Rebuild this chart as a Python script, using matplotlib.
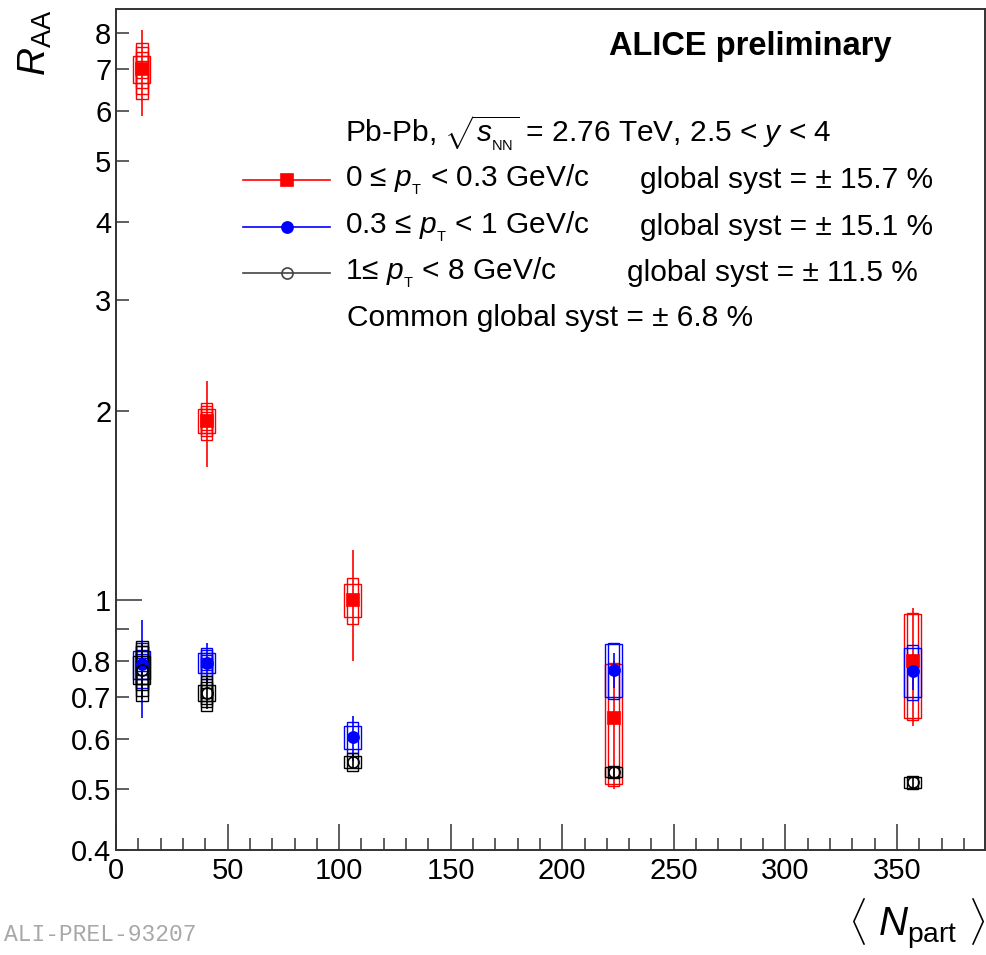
import numpy as np
import matplotlib.pyplot as plt
from matplotlib.patches import Rectangle

plt.rcParams['font.family'] = ['Liberation Sans', 'DejaVu Sans']
plt.rcParams['mathtext.fontset'] = 'custom'
plt.rcParams['mathtext.rm'] = 'Liberation Sans'
plt.rcParams['mathtext.it'] = 'Liberation Sans:italic'
plt.rcParams['mathtext.bf'] = 'Liberation Sans:bold'

# <Npart> for the five centrality classes
npart = [11.5, 40.6, 106, 223, 357]

# 0 <= pT < 0.3 GeV/c
raa_low = [7.0, 1.93, 1.0, 0.65, 0.80]
stat_low = [1.1, 0.30, 0.20, 0.15, 0.17]
syst_low = [0.72, 0.13, 0.085, 0.145, 0.155]
syst2_low = [0.35, 0.085, 0.06, 0.14, 0.15]

# 0.3 <= pT < 1 GeV/c
raa_mid = [0.79, 0.795, 0.605, 0.775, 0.77]
stat_mid = [0.14, 0.06, 0.05, 0.05, 0.05]
syst_mid = [0.065, 0.045, 0.035, 0.08, 0.077]
syst2_mid = [0.04, 0.03, 0.025, 0.075, 0.07]

# 1 <= pT < 8 GeV/c
raa_high = [0.775, 0.712, 0.553, 0.532, 0.513]
stat_high = [0.08, 0.04, 0.015, 0.01, 0.01]
syst_high = [0.085, 0.045, 0.018, 0.012, 0.012]
syst2_high = [0.04, 0.02, 0.012, 0.01, 0.01]

leg_labels = [r'0 ≤ $p_{_{\mathrm{T}}}$ < 0.3 GeV/c',
              r'0.3 ≤ $p_{_{\mathrm{T}}}$ < 1 GeV/c',
              r'1≤ $p_{_{\mathrm{T}}}$ < 8 GeV/c']
glob_labels = ['global syst = ± 15.7 %',
               'global syst = ± 15.1 %',
               'global syst = ± 11.5 %']

fig = plt.figure(figsize=(9.86, 9.55), dpi=100)
ax = fig.add_axes([0.1177, 0.1099, 0.8813, 0.8806])
ax.set_yscale('log')

series = [
    (raa_low, stat_low, syst_low, syst2_low, 'red', 's', 'red'),
    (raa_mid, stat_mid, syst_mid, syst2_mid, 'blue', 'o', 'blue'),
    (raa_high, stat_high, syst_high, syst2_high, 'black', 'o', 'none'),
]

for k, (y, st, sy, sy2, col, mk, fc) in enumerate(series):
    for i in range(len(npart)):
        # narrow boxes (ladder look in the peripheral bins)
        nlay = 5 if i < 2 else 1
        for f in np.linspace(1.0, 0.3, nlay):
            ax.add_patch(Rectangle((npart[i] - 2.6, y[i] - sy[i] * f), 5.2, 2 * sy[i] * f,
                                   fill=False, ec=col, lw=1.0, zorder=2 + k))
        # wide box
        ax.add_patch(Rectangle((npart[i] - 3.8, y[i] - sy2[i]), 7.6, 2 * sy2[i],
                               fill=False, ec=col, lw=1.0, zorder=2 + k))
    ax.errorbar(npart, y, yerr=st, fmt='none', ecolor=col, elinewidth=1.2,
                capsize=0, zorder=3 + k)
    ax.plot(npart, y, ls='none', marker=mk, ms=8, mfc=fc, mec=col, mew=1.2, zorder=6 + k)

ax.set_xlim(0, 389.5)
ax.set_ylim(0.4, 8.73)

ax.set_xticks(np.arange(0, 351, 50))
ax.set_xticks(np.arange(0, 390, 10), minor=True)
ax.set_yticks([1])
ax.set_yticklabels(['1'])
yminor = [0.4, 0.5, 0.6, 0.7, 0.8, 0.9, 2, 3, 4, 5, 6, 7, 8]
ax.set_yticks(yminor, minor=True)
ax.set_yticklabels(['0.4', '0.5', '0.6', '0.7', '0.8', '', '2', '3', '4', '5', '6', '7', '8'],
                   minor=True)

ax.tick_params(which='both', direction='in', top=False, right=False, width=1.1,
               labelsize=21, color='#333333')
ax.tick_params(which='major', length=19)
ax.tick_params(which='minor', length=9)
ax.tick_params(axis='x', pad=5)
ax.tick_params(axis='y', pad=4)
for s in ax.spines.values():
    s.set_linewidth(1.4)
    s.set_color('#333333')

# labels
fig.text(35 / 986, 1 - 10 / 955, r'$R_{\mathrm{AA}}$', rotation=90, ha='center', va='top',
         fontsize=28)
fig.text(0.999, 0.004, r'$\langle\ N_{\mathrm{part}}\ \rangle$', ha='right', va='bottom',
         fontsize=29)
fig.text(0.004, 0.021, 'ALI-PREL-93207', family='Liberation Mono', fontsize=16.5,
         color='#a8a8a8', ha='left', va='center')

ax.text(0.7296, 0.955, 'ALICE preliminary', transform=ax.transAxes, ha='center',
        va='center', fontsize=23.5, fontweight='bold')

ax.text(0.2635, 0.8526, r'Pb-Pb, $\sqrt{s_{_{\mathrm{NN}}}}$ = 2.76 TeV, 2.5 < $y$ < 4',
        transform=ax.transAxes, ha='left', va='center', fontsize=21.5)
rows = [0.7967, 0.7408, 0.6861]
gx = [0.603, 0.603, 0.588]
styles = [('red', 's', 'red'), ('blue', 'o', 'blue'), ('#444444', 'o', 'none')]
for r, lab, glab, g, (col, mk, fc) in zip(rows, leg_labels, glob_labels, gx, styles):
    ax.plot([0.146, 0.246], [r, r], color=col, lw=1.2, transform=ax.transAxes, clip_on=False)
    ax.plot([0.197], [r], marker=mk, ms=8, mfc=fc, mec=col, mew=1.2, transform=ax.transAxes,
            clip_on=False)
    ax.text(0.2635, r, lab, transform=ax.transAxes, ha='left', va='center', fontsize=21.5)
    ax.text(g, r, glab, transform=ax.transAxes, ha='left', va='center', fontsize=21.5)
ax.text(0.2655, 0.6326, 'Common global syst = ± 6.8 %', transform=ax.transAxes,
        ha='left', va='center', fontsize=21.5)

fig.savefig('out.png', dpi=100)
